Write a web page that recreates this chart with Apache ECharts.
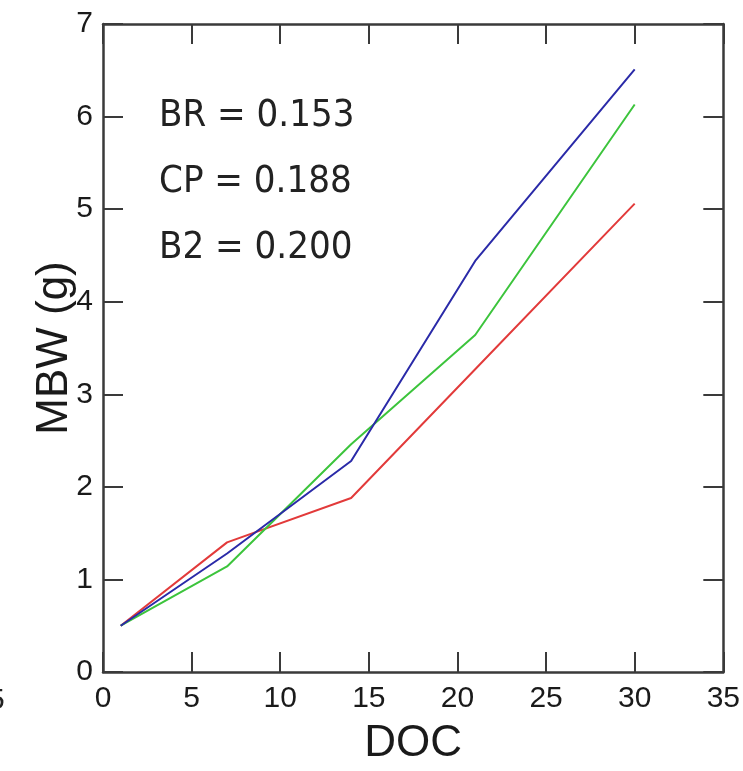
<!DOCTYPE html>
<html><head><meta charset="utf-8">
<script src="https://cdn.jsdelivr.net/npm/echarts@6/dist/echarts.min.js"></script>
<style>html,body{margin:0;padding:0;background:#fff;overflow:hidden}#c{width:743px;height:771px}</style>
</head><body><div id="c"></div>
<script>
const doc = [1, 7, 14, 21, 30];
const red = [0.5, 1.40, 1.88, 3.27, 5.06];
const green = [0.5, 1.14, 2.46, 3.64, 6.13];
const blue = [0.5, 1.28, 2.28, 4.44, 6.51];
const annotations = ['BR = 0.153', 'CP = 0.188', 'B2 = 0.200'];
const xTicks = [0, 5, 10, 15, 20, 25, 30, 35];
const yTicks = [0, 1, 2, 3, 4, 5, 6, 7];

const chart = echarts.init(document.getElementById('c'));
const axisCol = '#3a3a3a';
const lbl = {color: '#1a1a1a', fontFamily: 'Liberation Sans, Arial, sans-serif', fontSize: 30};
function pair(xs, ys) { return xs.map((x, i) => [x, ys[i]]); }
function mkLine(name, ys, col) {
  return {name, type: 'line', data: pair(doc, ys), symbol: 'none', lineStyle: {color: col, width: 2}, itemStyle: {color: col}, z: 3};
}
const tick = {show: true, inside: true, length: 20, lineStyle: {color: axisCol, width: 2}};
const line = {show: true, onZero: false, lineStyle: {color: axisCol, width: 2.5}};
chart.setOption({
  animation: false,
  grid: {left: 103, top: 24, right: 11, bottom: 92, containLabel: false},
  xAxis: [
    {type: 'value', min: xTicks[0], max: xTicks[xTicks.length - 1], interval: 5, position: 'bottom',
     axisLine: line, axisTick: tick,
     axisLabel: Object.assign({margin: 12}, lbl),
     splitLine: {show: false},
     name: 'DOC', nameLocation: 'middle', nameGap: 50,
     nameTextStyle: {color: '#1a1a1a', fontFamily: 'Liberation Sans, Arial, sans-serif', fontSize: 44}},
    {type: 'value', min: xTicks[0], max: xTicks[xTicks.length - 1], interval: 5, position: 'top',
     axisLine: line, axisTick: tick,
     axisLabel: {show: false}, splitLine: {show: false}}
  ],
  yAxis: [
    {type: 'value', min: yTicks[0], max: yTicks[yTicks.length - 1], interval: 1, position: 'left',
     axisLine: line, axisTick: tick,
     axisLabel: Object.assign({margin: 10}, lbl),
     splitLine: {show: false},
     name: 'MBW (g)', nameLocation: 'middle', nameGap: 26, nameRotate: 90, nameMoveOverlap: false,
     nameTextStyle: {color: '#1a1a1a', fontFamily: 'Liberation Sans, Arial, sans-serif', fontSize: 44}},
    {type: 'value', min: yTicks[0], max: yTicks[yTicks.length - 1], interval: 1, position: 'right',
     axisLine: line, axisTick: tick,
     axisLabel: {show: false}, splitLine: {show: false}}
  ],
  series: [
    mkLine('BR', red, '#e23a3a'),
    mkLine('CP', green, '#3cc43c'),
    mkLine('B2', blue, '#2a2aa8')
  ],
  graphic: annotations.map((t, i) => ({
    type: 'text', left: 159, top: 97 + i * 66,
    style: {text: t, fill: '#222', font: '38px "DejaVu Sans Condensed", "DejaVu Sans", sans-serif'}
  })).concat([{
    type: 'text', left: -12, top: 686,
    style: {text: '5', fill: '#222', font: '30px "Liberation Sans", Arial, sans-serif'}
  }])
});
</script></body></html>
